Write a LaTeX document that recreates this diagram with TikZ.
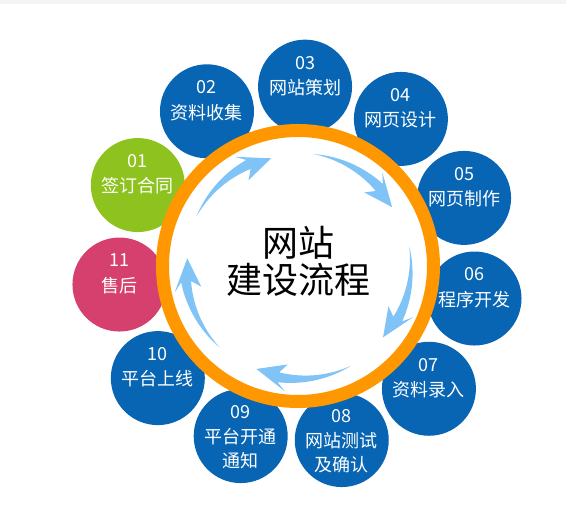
\documentclass[tikz,border=0pt]{standalone}
\usepackage{fontspec}
\newfontfamily\cjk{Noto Sans CJK SC}
\definecolor{cblue}{HTML}{0765B3}
\definecolor{cgreen}{HTML}{8DC21F}
\definecolor{cpink}{HTML}{D6406F}
\definecolor{corange}{HTML}{FF9800}
\definecolor{carrow}{HTML}{80C4F7}
\definecolor{cstrip}{HTML}{F4F4F4}
\newcommand{\flowarrow}[1]{%
  \fill[carrow] plot[domain=0:1,samples=30] ({#1-38*\x}:{113+5*\x})
    -- ({#1-34}:{126}) -- ({#1-50}:{111}) -- ({#1-34}:{99}) -- ({#1-38}:{108})
    -- plot[domain=1:0,samples=30] ({#1-38*\x}:{113-5*\x}) -- cycle;}
\begin{document}
\begin{tikzpicture}[x=1pt,y=1pt,
  stepdisc/.style={circle, inner sep=0pt, minimum size=94pt, fill=cblue},
  lbl/.style={text=white, inner sep=0pt, font=\cjk\fontsize{18}{20}\selectfont},
  hub/.style={circle, inner sep=0pt, minimum size=271pt, fill=white, draw=corange, line width=13pt},
  titletxt/.style={text=black, inner sep=0pt, font=\cjk\fontsize{36}{40}\selectfont}]
\useasboundingbox (0,0) rectangle (566,505);
\fill[cstrip] (0,501) rectangle (566,505);
\begin{scope}[shift={(298,239)}]
  \node[stepdisc, fill=cgreen] (c01) at (153.2:179.5) {};
  \node[stepdisc] (c02) at (120.47:179.5) {};
  \node[stepdisc] (c03) at (87.75:179.5) {};
  \node[stepdisc] (c04) at (55.02:179.5) {};
  \node[stepdisc] (c05) at (22.29:179.5) {};
  \node[stepdisc] (c06) at (-10.44:179.5) {};
  \node[stepdisc] (c07) at (-43.16:179.5) {};
  \node[stepdisc] (c08) at (-75.89:179.5) {};
  \node[stepdisc] (c09) at (-108.62:179.5) {};
  \node[stepdisc] (c10) at (-141.35:179.5) {};
  \node[stepdisc, fill=cpink] (c11) at (-174.07:179.5) {};
\end{scope}
\node[hub] (hub) at (298,239) {};
\begin{scope}[shift={(298,239)}]
  \flowarrow{154}
  \flowarrow{82}
  \flowarrow{10}
  \flowarrow{-62}
  \flowarrow{-134}
\end{scope}
\node[titletxt] (title1) at (298,262) {网站};
\node[titletxt] (title2) at (298,225) {建设流程};
% labels
\node[lbl, yshift=24pt] (n01) at (c01) {01};
\node[lbl, yshift=-1pt] (t01) at (c01) {签订合同};
\node[lbl, yshift=24pt] (n02) at (c02) {02};
\node[lbl, yshift=-1pt] (t02) at (c02) {资料收集};
\node[lbl, yshift=24pt] (n03) at (c03) {03};
\node[lbl, yshift=-1pt] (t03) at (c03) {网站策划};
\node[lbl, yshift=24pt] (n04) at (c04) {04};
\node[lbl, yshift=-1pt] (t04) at (c04) {网页设计};
\node[lbl, yshift=24pt] (n05) at (c05) {05};
\node[lbl, yshift=-1pt] (t05) at (c05) {网页制作};
\node[lbl, yshift=24pt] (n06) at (c06) {06};
\node[lbl, yshift=-1pt] (t06) at (c06) {程序开发};
\node[lbl, yshift=24pt] (n07) at (c07) {07};
\node[lbl, yshift=-1pt] (t07) at (c07) {资料录入};
\node[lbl, yshift=24pt] (n08) at (c08) {08};
\node[lbl, yshift=-1pt] (t08) at (c08) {网站测试};
\node[lbl, yshift=-25pt] (u08) at (c08) {及确认};
\node[lbl, yshift=24pt] (n09) at (c09) {09};
\node[lbl, yshift=-1pt] (t09) at (c09) {平台开通};
\node[lbl, yshift=-25pt] (u09) at (c09) {通知};
\node[lbl, yshift=24pt] (n10) at (c10) {10};
\node[lbl, yshift=-1pt] (t10) at (c10) {平台上线};
\node[lbl, yshift=24pt] (n11) at (c11) {11};
\node[lbl, yshift=-1pt] (t11) at (c11) {售后};
\end{tikzpicture}
\end{document}
